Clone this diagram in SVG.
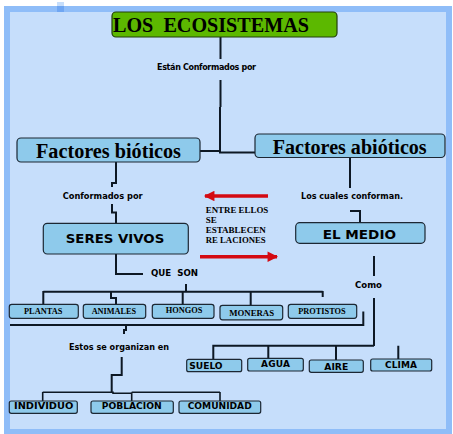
<svg xmlns="http://www.w3.org/2000/svg" width="453" height="434" viewBox="0 0 453 434">
<style>
.box{fill:#8ecaeb;stroke:#1c2733;stroke-width:1.2}
.ln{fill:none;stroke:#0d1824;stroke-width:2}
.ln2{fill:none;stroke:#0d1824;stroke-width:1.6}
.ser{font-family:"Liberation Serif","Times New Roman",serif;font-weight:bold;fill:#000}
.san{font-family:"DejaVu Sans",Verdana,sans-serif;font-weight:bold;fill:#000}
.lbl{font-family:"DejaVu Sans",Verdana,sans-serif;font-weight:bold;fill:#000;font-size:8px}
</style>
<defs>
<marker id="ah" viewBox="0 0 10 10" refX="9" refY="5" markerWidth="3.4" markerHeight="3" orient="auto" markerUnits="strokeWidth">
<path d="M0,0 L10,5 L0,10 Z" fill="#d40a12"/>
</marker>
</defs>
<rect x="0" y="0" width="453" height="434" fill="#ffffff"/>
<rect x="4" y="6" width="448" height="428" fill="#8fbdf8"/>
<rect x="10" y="12" width="436" height="417" fill="#c6defb"/>
<rect x="57" y="2" width="7" height="4" fill="#c6defb"/>
<rect x="57" y="6" width="7" height="6" fill="#6fa6f2"/>

<g id="connectors">
<path class="ln" d="M220.5,37 V59"/>
<path class="ln" d="M220.5,80 V107 M220,107 V152.5 H255"/>
<path class="ln" d="M200,151 H220"/>
<path class="ln" d="M116,162 V183 H112 V187"/>
<path class="ln" d="M112,204 V212.5 H116 V223"/>
<path class="ln" d="M116,254 V274 H143"/>
<path class="ln" d="M350,157 V188"/>
<path class="ln" d="M350,211 H360 V223"/>
<path class="ln" d="M374,256 V276"/>
<path class="ln" d="M374,298 V346 M374,345.7 H213.3 V359 M268.3,345.7 V358 M336,345.7 V360 M398.3,345.7 V359"/>
<path class="ln" d="M186,284 V291.7 M43.3,291.7 H322.7 M43.3,291 V304 M111,291 V298 H116 V304 M182.7,291 V304 M250.7,291 V305 M322.7,291 V297"/>
<path class="ln" d="M10,325 H363.3 V311.5"/>
<path class="ln" d="M126,325 V330 H124 V334"/>
<path class="ln" d="M121.7,357 V375 H111.7 V392.5"/>
<path class="ln2" d="M42.7,392.3 H113 V393.3 H131.7 M131.7,392.3 H220 M42.7,392 V401 M131.7,392.3 V401 M220,392 V401"/>
<path d="M268,196 H205" stroke="#d40a12" stroke-width="3.5" fill="none" marker-end="url(#ah)"/>
<path d="M200,256.7 H277" stroke="#d40a12" stroke-width="3.5" fill="none" marker-end="url(#ah)"/>
</g>

<g id="ecosistemas">
<rect x="112" y="12" width="225" height="25" rx="4" fill="#5cb800" stroke="#22400a" stroke-width="1.2"/>
<text class="ser" x="113" y="32" font-size="22" xml:space="preserve" textLength="196" lengthAdjust="spacingAndGlyphs">LOS  ECOSISTEMAS</text>
</g>
<g id="lbl-conformados"><text class="lbl" x="157" y="70" font-size="7.5" textLength="99" lengthAdjust="spacing">Están Conformados por</text></g>

<g id="bioticos">
<rect class="box" x="17" y="138" width="183" height="24" rx="4"/>
<text class="ser" x="36" y="158.3" font-size="20" textLength="145" lengthAdjust="spacingAndGlyphs">Factores bióticos</text>
</g>
<g id="abioticos">
<rect class="box" x="255" y="134" width="190" height="23.5" rx="4"/>
<text class="ser" x="272.7" y="154" font-size="20" textLength="154" lengthAdjust="spacingAndGlyphs">Factores abióticos</text>
</g>
<g id="lbl-conformados2"><text class="lbl" x="62.7" y="199" textLength="80" lengthAdjust="spacingAndGlyphs">Conformados por</text></g>
<g id="lbl-cuales"><text class="lbl" x="301" y="199.3" textLength="102" lengthAdjust="spacingAndGlyphs">Los cuales conforman.</text></g>

<g id="seres">
<rect class="box" x="43.3" y="223.3" width="145" height="30.7" rx="4"/>
<text class="san" x="65.7" y="243.3" font-size="13" textLength="98.6" lengthAdjust="spacingAndGlyphs">SERES VIVOS</text>
</g>
<g id="medio">
<rect class="box" x="295.7" y="222.7" width="129.3" height="20.6" rx="4"/>
<text class="san" x="322.7" y="239" font-size="13" textLength="73.3" lengthAdjust="spacingAndGlyphs">EL MEDIO</text>
</g>
<g id="lbl-entre" class="ser" font-size="9">
<text x="205.7" y="213.3" textLength="62.6" lengthAdjust="spacingAndGlyphs">ENTRE ELLOS</text>
<text x="205.7" y="223.3">SE</text>
<text x="205.7" y="233.3" textLength="60" lengthAdjust="spacingAndGlyphs">ESTABLECEN</text>
<text x="205.7" y="243.3" textLength="60" lengthAdjust="spacingAndGlyphs">RE LACIONES</text>
</g>
<g id="lbl-queson"><text class="lbl" x="151" y="275.7" font-size="8.5" xml:space="preserve" textLength="47" lengthAdjust="spacingAndGlyphs">QUE  SON</text></g>
<g id="lbl-como"><text class="lbl" x="355" y="288.3" font-size="8.6" textLength="27" lengthAdjust="spacingAndGlyphs">Como</text></g>

<g id="plantas"><rect class="box" x="9.3" y="304.3" width="69" height="14" rx="2.5"/><text class="ser" x="24" y="314" font-size="8" textLength="38.3" lengthAdjust="spacingAndGlyphs">PLANTAS</text></g>
<g id="animales"><rect class="box" x="83.3" y="304.3" width="62.4" height="14" rx="2.5"/><text class="ser" x="91.7" y="314" font-size="8" textLength="44.3" lengthAdjust="spacingAndGlyphs">ANIMALES</text></g>
<g id="hongos"><rect class="box" x="152.3" y="304.3" width="61.7" height="14" rx="2.5"/><text class="ser" x="165.7" y="313.3" font-size="8" textLength="36.6" lengthAdjust="spacingAndGlyphs">HONGOS</text></g>
<g id="moneras"><rect class="box" x="220" y="305.3" width="62.7" height="14.5" rx="2.5"/><text class="ser" x="229.3" y="315.7" font-size="8" textLength="44.7" lengthAdjust="spacingAndGlyphs">MONERAS</text></g>
<g id="protistos"><rect class="box" x="288.3" y="304.3" width="68.4" height="14" rx="2.5"/><text class="ser" x="298.3" y="314.3" font-size="8" textLength="47.4" lengthAdjust="spacingAndGlyphs">PROTISTOS</text></g>

<g id="lbl-estos"><text class="lbl" x="69" y="350" textLength="100" lengthAdjust="spacingAndGlyphs">Estos se organizan en</text></g>

<g id="suelo"><rect class="box" x="186.7" y="359.3" width="55" height="12.4" rx="2"/><text class="san" x="189.3" y="369.3" font-size="9" textLength="33.3" lengthAdjust="spacingAndGlyphs">SUELO</text></g>
<g id="agua"><rect class="box" x="247.7" y="358.3" width="55.6" height="12.7" rx="2"/><text class="san" x="275.5" y="367.3" font-size="9" text-anchor="middle" textLength="29" lengthAdjust="spacing">AGUA</text></g>
<g id="aire"><rect class="box" x="309.3" y="360" width="54" height="12.3" rx="2"/><text class="san" x="336.3" y="370" font-size="9" text-anchor="middle" textLength="24" lengthAdjust="spacingAndGlyphs">AIRE</text></g>
<g id="clima"><rect class="box" x="370.7" y="359" width="61" height="12" rx="2"/><text class="san" x="401" y="367.5" font-size="9" text-anchor="middle" textLength="32" lengthAdjust="spacing">CLIMA</text></g>

<g id="individuo"><rect class="box" x="9.3" y="401" width="68" height="12.3" rx="2"/><text class="san" x="14" y="409.3" font-size="9.3" textLength="59.3" lengthAdjust="spacingAndGlyphs">INDIVIDUO</text></g>
<g id="poblacion"><rect class="box" x="91" y="401" width="82.3" height="12.3" rx="2"/><text class="san" x="101.7" y="409.3" font-size="9.3" textLength="60" lengthAdjust="spacingAndGlyphs">POBLACION</text></g>
<g id="comunidad"><rect class="box" x="179" y="401" width="81.7" height="12.3" rx="2"/><text class="san" x="187.7" y="409.3" font-size="9.3" textLength="64" lengthAdjust="spacingAndGlyphs">COMUNIDAD</text></g>
</svg>
